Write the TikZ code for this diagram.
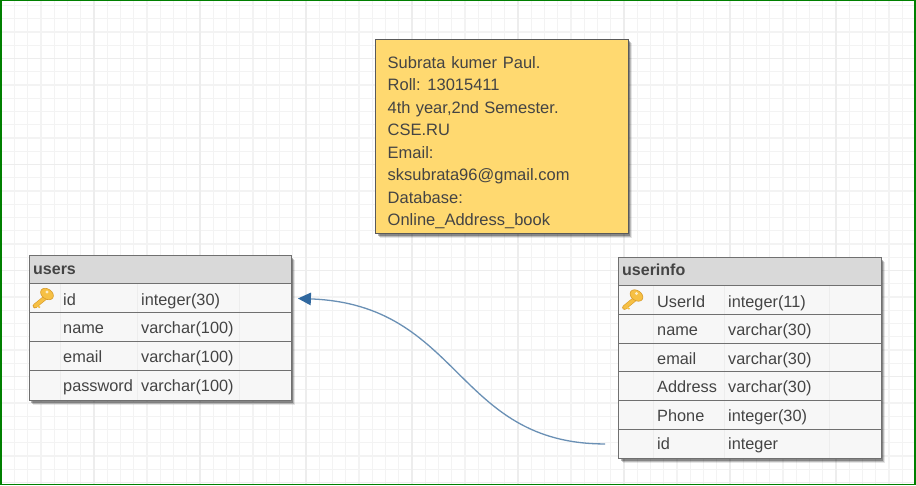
\documentclass[tikz,border=0pt]{standalone}
\usepackage{fontspec}
\setmainfont{Liberation Sans}
\usetikzlibrary{shadows,arrows.meta}
\definecolor{ink}{HTML}{444444}
\definecolor{edge}{HTML}{707070}
\definecolor{minorgrid}{HTML}{F3F3F3}
\definecolor{majorgrid}{HTML}{EDEDED}
\definecolor{framegreen}{HTML}{008000}
\definecolor{notefill}{HTML}{FFD970}
\definecolor{headfill}{HTML}{D9D9D9}
\definecolor{rowfill}{HTML}{F7F7F7}
\definecolor{wire}{HTML}{6A90B5}
\definecolor{wiretip}{HTML}{30689F}
\definecolor{keygold}{HTML}{F6C044}
\definecolor{keyline}{HTML}{D79A2A}
\definecolor{colline}{HTML}{EDEDED}
\tikzset{
  softshadow/.style={
    general shadow={shadow xshift=4pt,shadow yshift=-4pt,fill=black,opacity=.10},
    general shadow={shadow xshift=3pt,shadow yshift=-3pt,fill=black,opacity=.18},
    general shadow={shadow xshift=2pt,shadow yshift=-2pt,fill=black,opacity=.28}},
  tablebody/.style={rectangle,draw=edge,line width=1.2pt,fill=rowfill,inner sep=0pt,anchor=north west,softshadow},
  headrow/.style={rectangle,draw=edge,line width=1.2pt,fill=headfill,inner sep=0pt,anchor=north west},
  datarow/.style={rectangle,draw=edge,line width=.9pt,inner sep=0pt,anchor=north west},
  headtext/.style={anchor=base west,inner sep=0pt,text=ink,font=\fontsize{16}{18}\selectfont\bfseries},
  celltext/.style={anchor=base west,inner sep=0pt,text=ink,font=\fontsize{16.3}{18}\selectfont},
  notebox/.style={rectangle,draw=edge!80!black,line width=1.2pt,fill=notefill,inner sep=0pt,anchor=north west,softshadow},
  notetext/.style={anchor=north west,inner sep=0pt,align=left,text=ink,font=\fontsize{16.5}{22.5}\selectfont},
  relation/.style={draw=wire,line width=1.3pt,-{Triangle[length=13pt,width=12.5pt,fill=wiretip,wiretip]}},
  keybody/.style={draw=keyline,line width=.6pt,fill=keygold}
}
\newcommand{\keyicon}[2]{%
  \begin{scope}[shift={(#1,#2)}]
    \draw[keyline,line width=4.6pt,line cap=round] (-8,9) -- (3,0);
    \draw[keygold,line width=3.4pt,line cap=round] (-8,9) -- (3,0);
    \draw[keygold,line width=1.6pt] (-5.5,9) -- (-3,10.5);
    \draw[keybody,rotate around={-35:(4,-3)}] (4,-3) ellipse (7 and 5);
    \fill[white!70!keygold] (4,-5) circle (1.6);
  \end{scope}}
\begin{document}
\begin{tikzpicture}[x=1pt,y=-1pt]
\useasboundingbox (0,0) rectangle (916,485);
\fill[white] (0,0) rectangle (916,485);
% grid
\foreach \i in {0,...,69} {
  \pgfmathsetmacro{\gx}{1.3+13.25*\i}
  \draw[minorgrid,line width=1.2pt] (\gx,0) -- (\gx,485);
}
\foreach \i in {0,...,36} {
  \pgfmathsetmacro{\gy}{5.5+13.25*\i}
  \draw[minorgrid,line width=1.2pt] (0,\gy) -- (916,\gy);
}
\foreach \i in {0,...,8} {
  \pgfmathsetmacro{\gx}{94+106*\i}
  \draw[majorgrid,line width=1.4pt] (\gx,0) -- (\gx,485);
}
\foreach \i in {0,...,4} {
  \pgfmathsetmacro{\gy}{58.5+106*\i}
  \draw[majorgrid,line width=1.4pt] (0,\gy) -- (916,\gy);
}
\draw[framegreen,line width=1.6pt] (0.8,0.6) rectangle (915,484.4);

% note
\node[notebox,minimum width=252.5pt,minimum height=194.5pt] (note) at (375,38.5) {};
\node[notetext] (notecontent) at (387.5,56) {Subrata\hspace{1.2pt} kumer\hspace{1.2pt} Paul.\\Roll:\hspace{.6pt} 13015411\\4th\hspace{.6pt} year,2nd\hspace{.6pt} Semester.\\CSE.RU\\Email:\\sksubrata96@gmail.com\\Database:\\Online\_Address\_book};

% users table
\node[tablebody,minimum width=262pt,minimum height=145pt] (users) at (28.5,255) {};
\foreach \cx in {60,137,239} \draw[colline,line width=.8pt] (\cx,283) -- (\cx,400);
\node[headrow,minimum width=262pt,minimum height=28pt] (usersHead) at (28.5,255) {};
\node[datarow,minimum width=262pt,minimum height=29pt] (usersId) at (28.5,283) {};
\node[datarow,minimum width=262pt,minimum height=29pt] (usersName) at (28.5,312) {};
\node[datarow,minimum width=262pt,minimum height=29pt] (usersEmail) at (28.5,341) {};
\node[datarow,minimum width=262pt,minimum height=29.5pt] (usersPass) at (28.5,370) {};
\node[headtext] (usersTitle) at (33,274) {users};
\keyicon{43}{297}
\node[celltext] (u1a) at (63,305) {id};
\node[celltext] (u1b) at (141,305) {integer(30)};
\node[celltext] (u2a) at (63,333) {name};
\node[celltext] (u2b) at (141,333) {varchar(100)};
\node[celltext] (u3a) at (63,362) {email};
\node[celltext] (u3b) at (141,362) {varchar(100)};
\node[celltext] (u4a) at (63,391) {password};
\node[celltext] (u4b) at (141,391) {varchar(100)};

% userinfo table
\node[tablebody,minimum width=262.5pt,minimum height=201pt] (info) at (618,257) {};
\foreach \cx in {653,724,829} \draw[colline,line width=.8pt] (\cx,285) -- (\cx,458);
\node[headrow,minimum width=262.5pt,minimum height=28pt] (infoHead) at (618,257) {};
\node[datarow,minimum width=262.5pt,minimum height=28.8pt] (infoKey) at (618,285) {};
\node[datarow,minimum width=262.5pt,minimum height=28.8pt] (infoName) at (618,313.8) {};
\node[datarow,minimum width=262.5pt,minimum height=28.8pt] (infoEmail) at (618,342.6) {};
\node[datarow,minimum width=262.5pt,minimum height=28.8pt] (infoAddr) at (618,371.4) {};
\node[datarow,minimum width=262.5pt,minimum height=28.8pt] (infoPhone) at (618,400.2) {};
\node[datarow,minimum width=262.5pt,minimum height=29pt] (infoId) at (618,429) {};
\node[headtext] (infoTitle) at (622,275) {userinfo};
\keyicon{632.5}{298.5}
\node[celltext] (i1a) at (657,307) {UserId};
\node[celltext] (i1b) at (728,307) {integer(11)};
\node[celltext] (i2a) at (657,335) {name};
\node[celltext] (i2b) at (728,335) {varchar(30)};
\node[celltext] (i3a) at (657,364) {email};
\node[celltext] (i3b) at (728,364) {varchar(30)};
\node[celltext] (i4a) at (657,392) {Address};
\node[celltext] (i4b) at (728,392) {varchar(30)};
\node[celltext] (i5a) at (657,421) {Phone};
\node[celltext] (i5b) at (728,421) {integer(30)};
\node[celltext] (i6a) at (657,449) {id};
\node[celltext] (i6b) at (728,449) {integer};

% relation
\coordinate (relFrom) at ([xshift=-13pt]infoId.west);
\coordinate (relTo) at ([xshift=6.5pt,yshift=-0.5pt]usersId.east);
\draw[relation] (relFrom) .. controls +(-150,0) and +(164,6) .. (relTo);
\end{tikzpicture}
\end{document}
